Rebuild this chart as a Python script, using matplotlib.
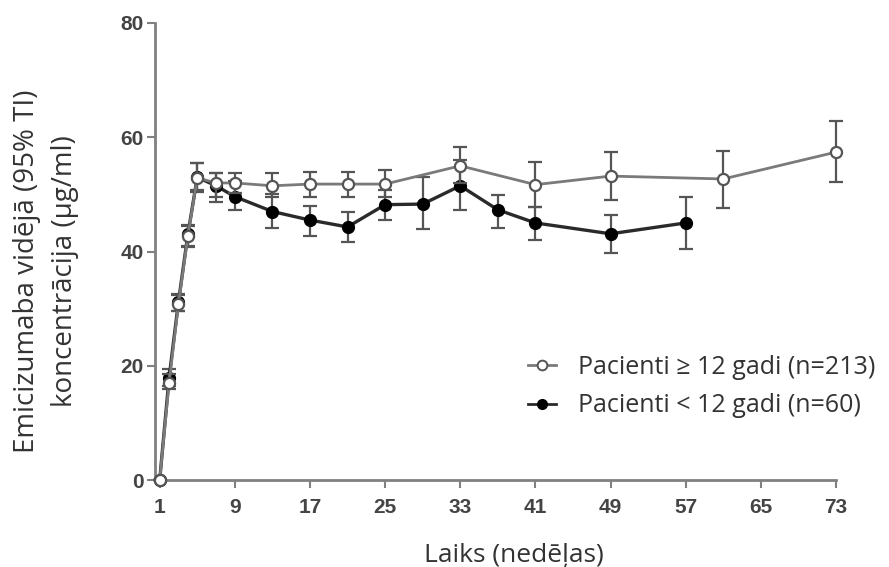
import matplotlib
matplotlib.use("Agg")
import matplotlib.pyplot as plt
from matplotlib.lines import Line2D
import numpy as np

# ---- data ----
weeks_old = [1, 2, 3, 4, 5, 7, 9, 13, 17, 21, 25, 33, 41, 49, 61, 73]
mean_old = [0, 17.0, 30.8, 42.7, 52.9, 52.0, 52.0, 51.5, 51.8, 51.8, 51.8, 55.0, 51.7, 53.2, 52.7, 57.4]
lo_old = [0, 16.0, 29.5, 41.0, 50.8, 49.5, 50.3, 49.6, 49.6, 49.6, 49.5, 52.0, 47.8, 49.0, 47.6, 52.2]
hi_old = [0, 18.5, 32.3, 44.5, 55.5, 53.8, 53.8, 53.8, 54.0, 54.0, 54.2, 58.3, 55.7, 57.4, 57.6, 62.9]

weeks_young = [1, 2, 3, 4, 5, 7, 9, 13, 17, 21, 25, 29, 33, 37, 41, 49, 57]
mean_young = [0, 17.9, 31.2, 43.0, 53.0, 51.5, 49.6, 47.0, 45.5, 44.3, 48.2, 48.3, 51.5, 47.3, 45.0, 43.1, 45.0]
lo_young = [0, 16.5, 29.5, 40.8, 50.5, 48.7, 47.3, 44.1, 42.7, 41.7, 45.5, 44.0, 47.3, 44.1, 42.0, 39.8, 40.5]
hi_young = [0, 19.5, 32.5, 44.7, 55.5, 53.8, 52.3, 50.0, 48.0, 47.0, 50.8, 53.1, 56.0, 49.9, 47.8, 46.4, 49.6]

x_ticks = [1, 9, 17, 25, 33, 41, 49, 57, 65, 73]
y_ticks = [0, 20, 40, 60, 80]

label_old = "Pacienti \u2265 12 gadi (n=213)"
label_young = "Pacienti < 12 gadi (n=60)"
xlabel = "Laiks (ned\u0113\u013cas)"
ylabel = "Emicizumaba vid\u0113j\u0101 (95% TI)\nkoncentr\u0101cija (\u00b5g/ml)"

# ---- figure ----
fig = plt.figure(figsize=(8.89, 5.67), dpi=100)
ax = fig.add_axes([155/889, 1-480/567, (836-155)/889, (480-23)/567])

txt_font = ["Open Sans", "DejaVu Sans"]
tick_font = ["Liberation Sans Narrow", "Liberation Sans", "DejaVu Sans"]

grey = "#7a7a7a"

def err(m, lo, hi):
    m = np.asarray(m); return [m - np.asarray(lo), np.asarray(hi) - m]

e1 = ax.errorbar(weeks_young, mean_young, yerr=err(mean_young, lo_young, hi_young),
                 color="#2a2a2a", ecolor="#555555", elinewidth=1.6, capsize=5, capthick=1.6,
                 lw=2.4, marker="o", ms=8.5, mfc="black", mec="black", zorder=3, clip_on=False)
e2 = ax.errorbar(weeks_old, mean_old, yerr=err(mean_old, lo_old, hi_old),
                 color=grey, ecolor="#555555", elinewidth=1.6, capsize=5, capthick=1.6,
                 lw=2.0, marker="o", ms=8, mfc="white", mec="#555555", mew=1.6, zorder=4, clip_on=False)
for e in (e1, e2):
    for c in e.lines[1] + e.lines[2]:
        c.set_clip_on(False)

ax.set_xlim(0.5, 73)
ax.set_ylim(0, 80)
ax.set_xticks(x_ticks)
ax.set_yticks(y_ticks)

for s in ["top", "right"]:
    ax.spines[s].set_visible(False)
for s in ["left", "bottom"]:
    ax.spines[s].set_color("#808080")
    ax.spines[s].set_linewidth(2)
ax.tick_params(axis="both", direction="out", length=6, width=1.5, color="#808080",
               labelcolor="#444444", labelsize=15)
for lab in ax.get_xticklabels() + ax.get_yticklabels():
    lab.set_fontfamily(tick_font)
    lab.set_fontweight("bold")
ax.tick_params(axis="x", pad=7)
ax.tick_params(axis="y", pad=2)

fig.text(514/889, 1-562/567, xlabel, ha="center", va="baseline", fontsize=19,
         family=txt_font, color="#333333")
fig.text(46/889, 1-271/567, ylabel, ha="center", va="center", rotation=90, fontsize=20,
         family=txt_font, color="#333333", linespacing=1.45)

h_old = Line2D([], [], color=grey, lw=2, marker="o", ms=7, mfc="white", mec="#555555", mew=1.4)
h_young = Line2D([], [], color="#2a2a2a", lw=2, marker="o", ms=7, mfc="black", mec="black")
leg = ax.legend([h_old, h_young], [label_old, label_young], loc="upper left",
                bbox_to_anchor=(518/889, 1-345/567), bbox_transform=fig.transFigure,
                frameon=False, prop={"family": txt_font, "size": 18},
                handlelength=1.1, handletextpad=0.9, labelspacing=0.53, borderaxespad=0)
for t in leg.get_texts():
    t.set_color("#333333")

fig.savefig("out.png", dpi=100)
